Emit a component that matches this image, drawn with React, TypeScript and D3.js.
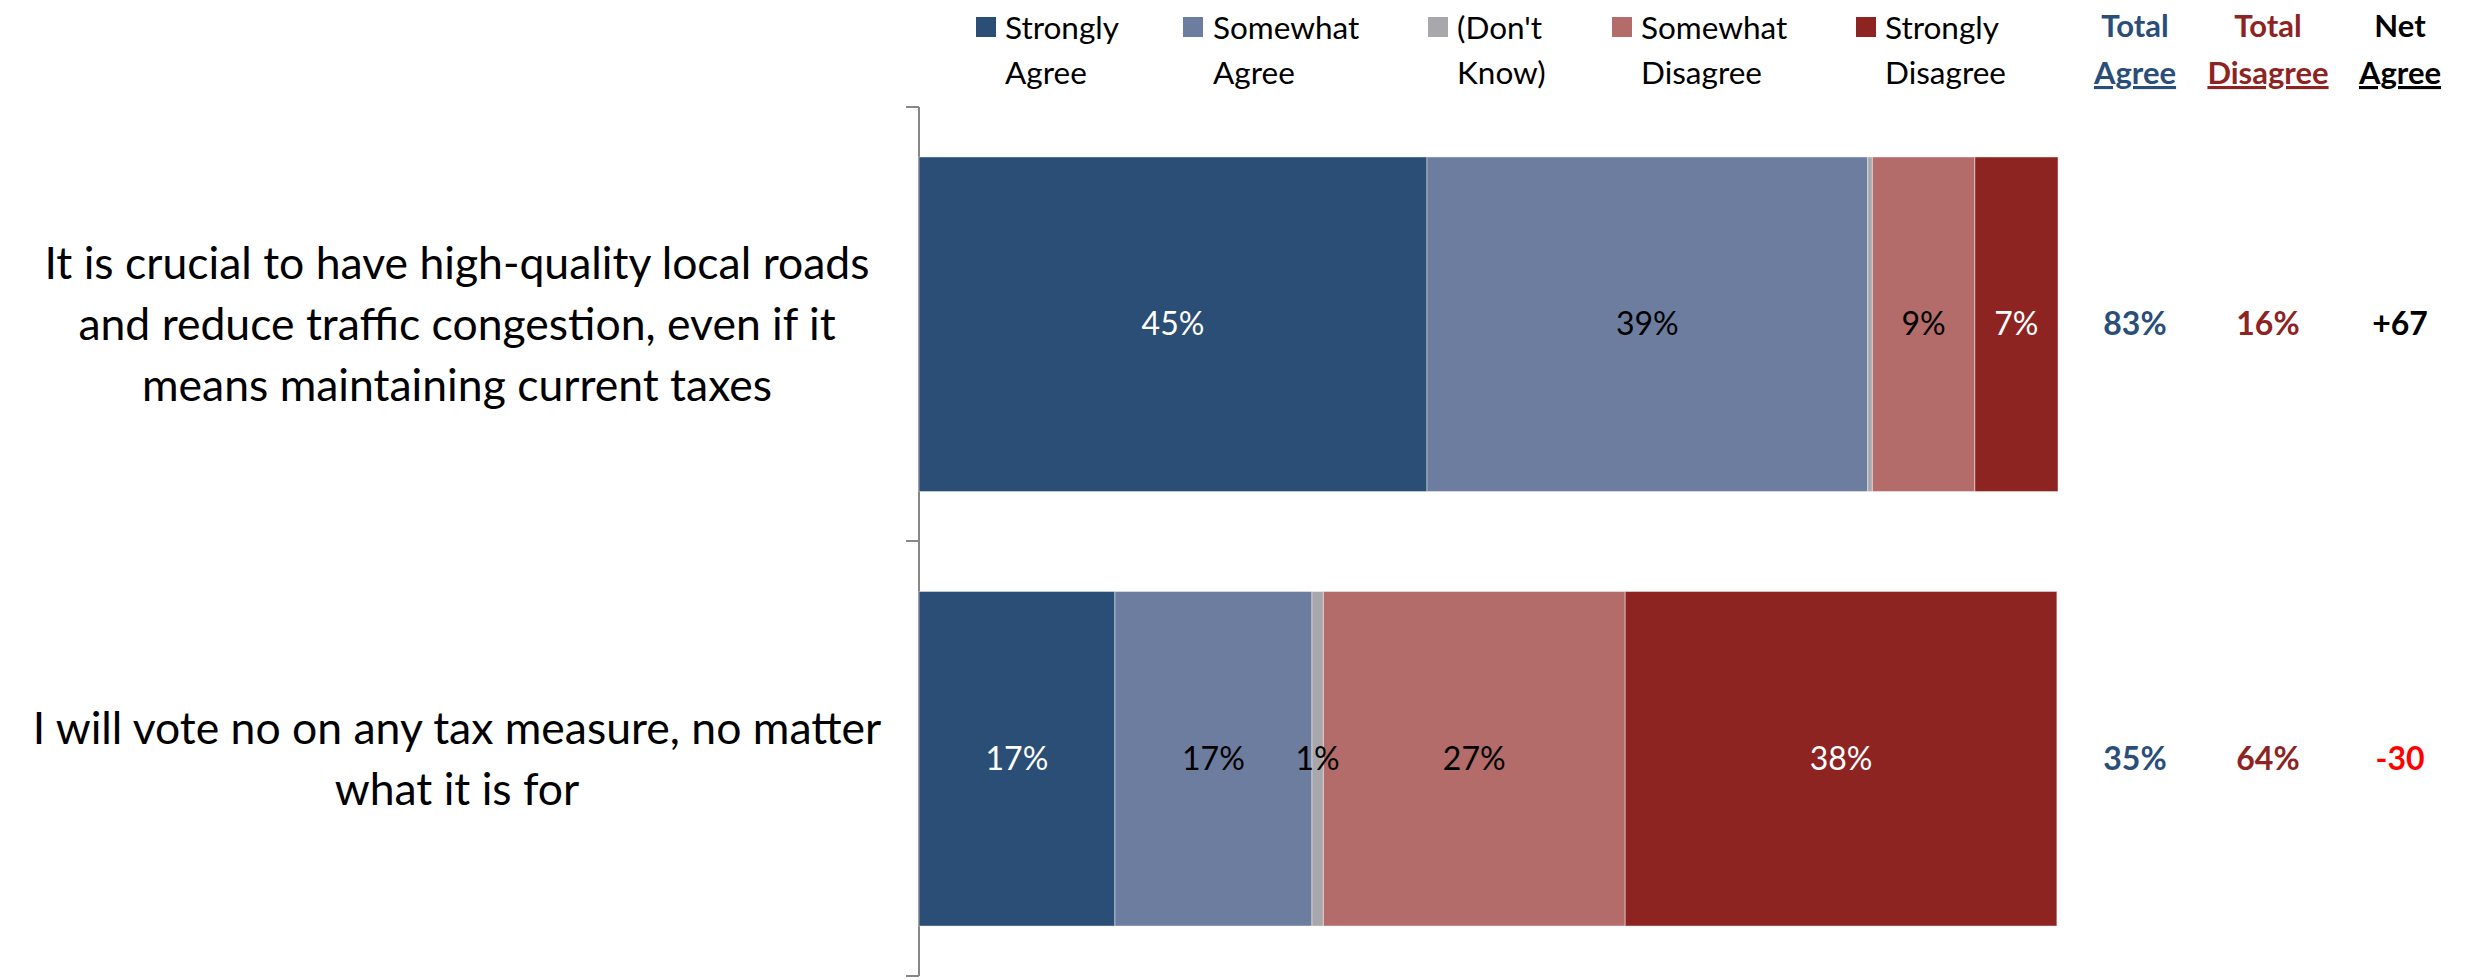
import React from "react";
import * as d3 from "d3";

const W = 2471;
const H = 980;

const statements: string[][] = [
  [
    "It is crucial to have high-quality local roads",
    "and reduce traffic congestion, even if it",
    "means maintaining current taxes",
  ],
  ["I will vote no on any tax measure, no matter", "what it is for"],
];
const categories = ["roads", "voteNo"];

const seriesNames = [
  ["Strongly", "Agree"],
  ["Somewhat", "Agree"],
  ["(Don't", "Know)"],
  ["Somewhat", "Disagree"],
  ["Strongly", "Disagree"],
];
const seriesColors = ["#2A4E75", "#6D7D9F", "#A8A8AC", "#B36C69", "#8E2422"];
const seriesLabelColors = ["#FFFFFF", "#000000", "#000000", "#000000", "#FFFFFF"];

const stronglyAgree = [44.6, 17.2];
const somewhatAgree = [38.7, 17.3];
const dontKnow = [0.4, 1.0];
const somewhatDisagree = [9.0, 26.5];
const stronglyDisagree = [7.3, 37.9];

const totalAgree = [83, 35];
const totalDisagree = [16, 64];
const netAgree = [67, -30];

const summaryHeaders = [
  { l1: "Total", l2: "Agree", color: "#2A4E7A" },
  { l1: "Total", l2: "Disagree", color: "#8E2422" },
  { l1: "Net", l2: "Agree", color: "#000000" },
];

const FONT = "Lato, 'Open Sans', sans-serif";

export default function App() {
  const series = [stronglyAgree, somewhatAgree, dontKnow, somewhatDisagree, stronglyDisagree];

  const x = d3.scaleLinear().domain([0, 100]).range([919, 2058]);
  const y = d3
    .scaleBand<string>()
    .domain(categories)
    .range([107, 976])
    .paddingInner(0.23)
    .paddingOuter(0.115);

  const rows = categories.map((c, i) => {
    let acc = 0;
    return series.map((s, k) => {
      const v = s[i];
      const seg = { k, x0: acc, x1: acc + v, v };
      acc += v;
      return seg;
    });
  });

  const legendSquareX = [976, 1183, 1428, 1612, 1856];
  const legendTextX = [1005, 1213, 1457, 1641, 1885];
  const summaryX = [2135, 2268, 2400];

  const tickYs = [107, 541, 976];

  return (
    <svg
      width={W}
      height={H}
      style={{ position: "absolute", left: 0, top: 0, background: "#fff" }}
      fontFamily={FONT}
    >
      <rect x={0} y={0} width={W} height={H} fill="#fff" />
      {/* legend */}
      {seriesNames.map((n, k) => (
        <g key={k}>
          <rect x={legendSquareX[k]} y={17} width={20} height={20} fill={seriesColors[k]} />
          <text x={legendTextX[k]} y={39} fontSize={31.5} fill="#000">
            {n[0]}
          </text>
          <text x={legendTextX[k]} y={84} fontSize={31.5} fill="#000">
            {n[1]}
          </text>
        </g>
      ))}
      {summaryHeaders.map((h, j) => (
        <g key={j}>
          <text x={summaryX[j]} y={37} fontSize={31} fontWeight="bold" fill={h.color} textAnchor="middle">
            {h.l1}
          </text>
          <text
            x={summaryX[j]}
            y={84}
            fontSize={31}
            fontWeight="bold"
            fill={h.color}
            textAnchor="middle"
            textDecoration="underline"
          >
            {h.l2}
          </text>
        </g>
      ))}

      {/* axis */}
      <line x1={919} x2={919} y1={tickYs[0]} y2={tickYs[2]} stroke="#878787" strokeWidth={2} />
      {tickYs.map((t, i) => (
        <line key={i} x1={906} x2={919} y1={t} y2={t} stroke="#878787" strokeWidth={2} />
      ))}

      {/* bars */}
      {categories.map((c, i) => {
        const by = y(c)!;
        const bh = y.bandwidth();
        const cy = by + bh / 2;
        const lines = statements[i];
        const lh = 61;
        const startY = cy - ((lines.length - 1) * lh) / 2;
        return (
          <g key={c}>
            {rows[i].map((s) => (
              <rect
                key={s.k}
                x={x(s.x0)}
                y={by}
                width={x(s.x1) - x(s.x0)}
                height={bh}
                fill={seriesColors[s.k]}
                stroke="#FFFFFF"
                strokeOpacity={0.45}
                strokeWidth={1}
              />
            ))}
            {rows[i].map((s) =>
              Math.round(s.v) >= 1 ? (
                <text
                  key={"l" + s.k}
                  x={(x(s.x0) + x(s.x1)) / 2}
                  y={cy}
                  dy="0.35em"
                  fontSize={32}
                  textAnchor="middle"
                  fill={seriesLabelColors[s.k]}
                >
                  {Math.round(s.v) + "%"}
                </text>
              ) : null
            )}
            {lines.map((ln, li) => (
              <text
                key={"s" + li}
                x={457}
                y={startY + li * lh}
                dy="0.35em"
                fontSize={44.5}
                textAnchor="middle"
                fill="#000"
              >
                {ln}
              </text>
            ))}
            <text x={summaryX[0]} y={cy} dy="0.35em" fontSize={32} fontWeight="bold" textAnchor="middle" fill="#2A4E7A">
              {totalAgree[i] + "%"}
            </text>
            <text x={summaryX[1]} y={cy} dy="0.35em" fontSize={32} fontWeight="bold" textAnchor="middle" fill="#8E2422">
              {totalDisagree[i] + "%"}
            </text>
            <text
              x={summaryX[2]}
              y={cy}
              dy="0.35em"
              fontSize={32}
              fontWeight="bold"
              textAnchor="middle"
              fill={netAgree[i] < 0 ? "#FF0000" : "#000000"}
            >
              {(netAgree[i] > 0 ? "+" : "") + netAgree[i]}
            </text>
          </g>
        );
      })}
    </svg>
  );
}
